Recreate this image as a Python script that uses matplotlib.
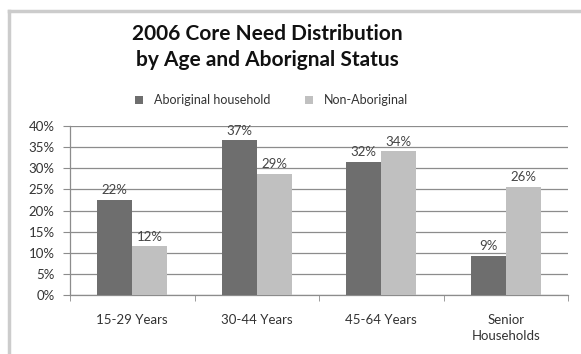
import numpy as np
import matplotlib.pyplot as plt
from matplotlib.lines import Line2D
from matplotlib.ticker import FuncFormatter

categories = ['15-29 Years', '30-44 Years', '45-64 Years', 'Senior\nHouseholds']
aboriginal = [22.5, 36.6, 31.5, 9.2]
non_aboriginal = [11.5, 28.6, 34.0, 25.6]
labels_ab = ['22%', '37%', '32%', '9%']
labels_non = ['12%', '29%', '34%', '26%']
series_names = ['Aboriginal household', 'Non-Aboriginal']

plt.rcParams['font.family'] = ['Lato', 'DejaVu Sans']

fig = plt.figure(figsize=(5.81, 3.54), dpi=100)
ax = fig.add_axes([70 / 581, 1 - 295 / 354, 498 / 581, 169 / 354])

x = np.arange(len(categories))
w = 0.28
dark = '#6e6e6e'
light = '#c0c0c0'
b1 = ax.bar(x - w / 2, aboriginal, w, color=dark, label=series_names[0], zorder=3)
b2 = ax.bar(x + w / 2, non_aboriginal, w, color=light, label=series_names[1], zorder=3)

for bars, labs in [(b1, labels_ab), (b2, labels_non)]:
    for b, t in zip(bars, labs):
        ax.text(b.get_x() + b.get_width() / 2, b.get_height() + 0.9, t,
                ha='center', va='bottom', fontsize=9.5, color='#444444')

ax.set_xlim(-0.5, 3.5)
ax.set_ylim(0, 40)
ax.set_yticks(np.arange(0, 41, 5))
ax.yaxis.set_major_formatter(FuncFormatter(lambda v, p: f'{v:.0f}%'))
ax.yaxis.grid(True, color='#8c8c8c', linewidth=0.9, zorder=0)
ax.set_axisbelow(True)

ax.set_xticks(x)
ax.set_xticklabels(categories, linespacing=1.4)
ax.set_xticks(np.arange(-0.5, 3.6, 1), minor=True)
ax.tick_params(axis='x', which='major', length=0, pad=14, labelsize=9.5, labelcolor='#333333')
ax.tick_params(axis='x', which='minor', length=4, color='#8c8c8c', direction='out')
ax.tick_params(axis='y', length=5, color='#8c8c8c', labelsize=9.5, labelcolor='#333333', pad=6)

for s in ['top', 'right']:
    ax.spines[s].set_visible(False)
for s in ['left', 'bottom']:
    ax.spines[s].set_color('#8c8c8c')
    ax.spines[s].set_linewidth(0.9)

fig.text(0.46, 1 - 47 / 354, '2006 Core Need Distribution\nby Age and Aborignal Status',
         ha='center', va='center', fontsize=15, fontweight='bold', color='#111111',
         linespacing=1.35)

ax.legend(loc='center', bbox_to_anchor=(0.468, 1 - 100 / 354), bbox_transform=fig.transFigure,
          ncol=2, frameon=False, fontsize=9, handlelength=0.6, handleheight=0.6,
          columnspacing=2.8, handletextpad=0.9, labelcolor='#333333')

# outer frame (top and left edges visible)
fig.add_artist(Line2D([9 / 581, 1], [1 - 11 / 354, 1 - 11 / 354], transform=fig.transFigure,
                      color='#cccccc', linewidth=2.5))
fig.add_artist(Line2D([9 / 581, 9 / 581], [0, 1 - 11 / 354], transform=fig.transFigure,
                      color='#cccccc', linewidth=2.5))

fig.savefig('out.png', dpi=100)
